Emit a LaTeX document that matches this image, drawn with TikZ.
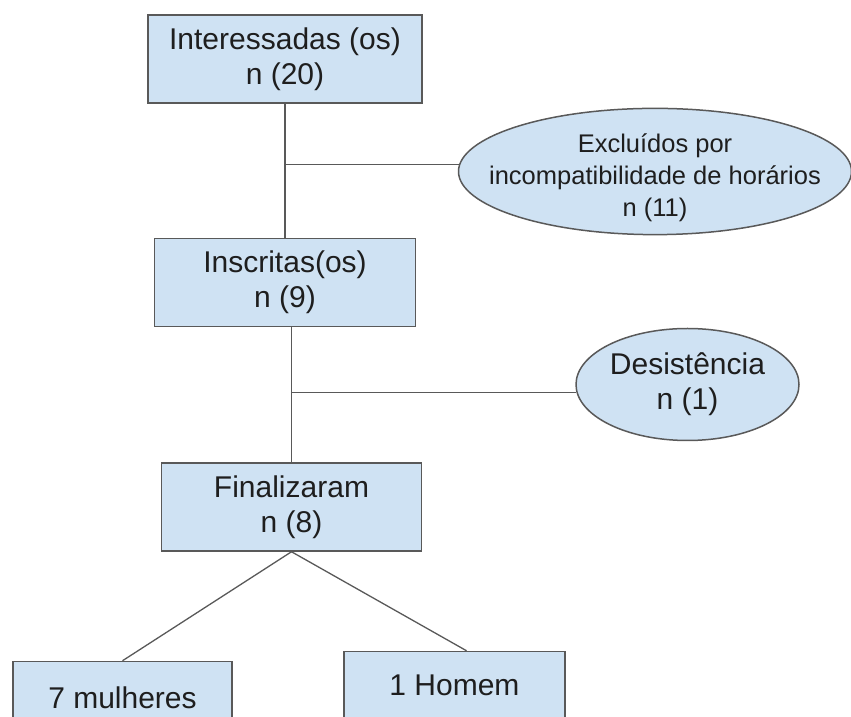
\documentclass[tikz,border=0pt]{standalone}
\usepackage{fontspec}
\setmainfont{Liberation Sans}
\usepackage[dvipsnames]{xcolor}
\definecolor{caixa}{HTML}{CFE2F3}
\definecolor{borda}{HTML}{595959}
\definecolor{texto}{HTML}{1E1E1E}
\usepackage{tikz}
\usetikzlibrary{shapes.geometric,positioning}

\begin{document}
\begin{tikzpicture}[
  x=1pt,y=1pt,
  etapa/.style={rectangle,draw=borda,fill=caixa,line width=1.5pt,
                text=texto,align=center,
                font=\fontsize{30}{35}\selectfont,
                minimum width=#1,minimum height=88pt},
  etapa/.default=260pt,
  saida/.style={ellipse,draw=borda,fill=caixa,line width=1.5pt,
                text=texto,align=center,
                inner xsep=-32pt,inner ysep=-6pt},
  lig/.style={draw=borda,line width=1.3pt}
]
  \useasboundingbox (0,0) rectangle (851,717);

  % Topo
  \node[etapa=274pt] at (285,658)
    (int) {Interessadas (os)\\n (20)};

  % Exclusao
  \node[saida,minimum width=393pt,minimum height=119pt,
        font=\fontsize{25.5}{32}\selectfont,
        right=35pt of int,yshift=-112.5pt]
    (exc) {\rule{0pt}{32pt}Exclu\'{\i}dos por\\incompatibilidade de hor\'arios\\n (11)};

  % Meio
  \node[etapa=261pt,below=134pt of int]
    (ins) {Inscritas(os)\\n (9)};

  % Desistencia
  \node[saida,minimum width=223pt,minimum height=112pt,
        font=\fontsize{30}{35}\selectfont,
        right=159pt of ins,yshift=-102pt]
    (des) {Desist\^encia\\n (1)};

  % Fim
  \node[etapa,below=135pt of ins,xshift=6.5pt]
    (fin) {Finalizaram\\n (8)};

  % Base
  \node[etapa=219pt,minimum height=72pt,
        below=109pt of fin,xshift=-169pt]
    (mul) {7 mulheres};
  \node[etapa=221pt,minimum height=67pt,
        below=99pt of fin,xshift=163pt]
    (hom) {1 Homem};

  % Ligacoes
  \draw[lig] (int.south) -- (ins.north);
  \draw[lig] (int.south |- exc.178) -- (exc.178);
  \draw[lig] (fin.north |- ins.south) -- (fin.north);
  \draw[lig] (fin.north |- des.184) -- (des.184);
  \draw[lig] (fin.south) -- (mul.north);
  \draw[lig] (fin.south) -- ([xshift=12pt]hom.north);

\end{tikzpicture}
\end{document}
